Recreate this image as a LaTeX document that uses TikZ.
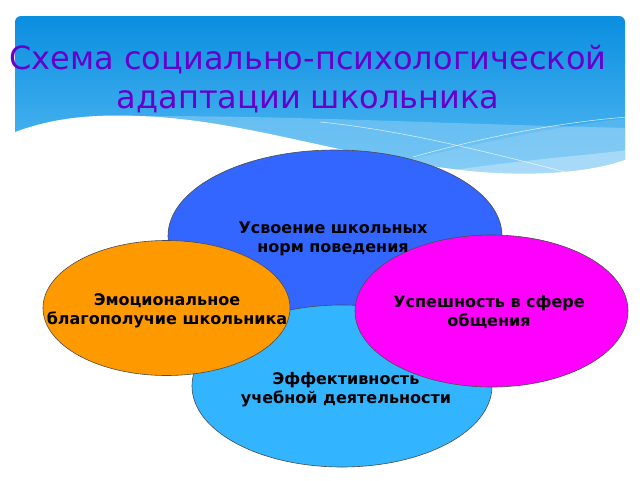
\documentclass[tikz,border=0pt]{standalone}
\usepackage{fontspec}
\setmainfont{DejaVu Sans}

\definecolor{headtop}{RGB}{10,142,224}
\definecolor{headbot}{RGB}{88,188,244}
\definecolor{bandcol}{RGB}{140,206,246}
\definecolor{titlecol}{RGB}{104,0,204}
\definecolor{normblue}{RGB}{51,102,255}
\definecolor{studyblue}{RGB}{51,180,255}
\definecolor{emoorange}{RGB}{255,153,0}
\definecolor{commpink}{RGB}{255,0,255}

\begin{document}
\begin{tikzpicture}[x=1pt,y=-1pt,
    blob/.style={draw=black!70,line width=0.6pt},
    lbl/.style={align=center,inner sep=0pt,text=black,
      font=\fontsize{16}{18.8}\selectfont\bfseries},
    waveline/.style={white,opacity=0.7,line width=0.6pt}]
    \useasboundingbox[fill=white] (0,0) rectangle (640,480);

    % Header: gradient box, light bands, white wave
    \begin{scope}
        \clip[rounded corners=6pt] (15,16) rectangle (625,178);
        \shade[top color=headtop,bottom color=headbot] (15,16) rectangle (625,178);
        \fill[bandcol,opacity=0.55] (150,116) .. controls (300,116) and (450,124) .. (628,128)
            -- (628,180) -- (150,180) -- cycle;
        \fill[white,opacity=0.12] (400,162) .. controls (500,138) and (560,126) .. (628,118)
            -- (628,180) -- (400,180) -- cycle;
        \fill[white,opacity=0.3] (440,172) .. controls (520,160) and (580,156) .. (628,150)
            -- (628,180) -- (440,180) -- cycle;
        \draw[waveline] (320,122) .. controls (400,130) and (480,150) .. (573,174);
        \draw[waveline] (413,157) .. controls (480,138) and (560,122) .. (628,117);
    \end{scope}
    \fill[white] (10,134) .. controls (50,118) and (90,114) .. (140,116)
        .. controls (250,120) and (350,160) .. (480,172)
        .. controls (550,177) and (600,170) .. (630,158) -- (630,200) -- (10,200) -- cycle;

    % Title
    \node[text=titlecol,align=center,font=\fontsize{32}{39}\selectfont] (title)
        at (308,79) {Схема социально-психологической\\адаптации школьника};

    % Sets: blue top, light blue bottom, orange left, pink right
    \path[blob,fill=normblue] (335,236) ellipse [x radius=167pt,y radius=86pt];
    \path[blob,fill=studyblue] (342,386) ellipse [x radius=150pt,y radius=81pt];
    \path[blob,fill=emoorange] (166.5,308) ellipse [x radius=123.5pt,y radius=67.5pt];
    \path[blob,fill=commpink] (491.5,311) ellipse [x radius=136.5pt,y radius=76pt];

    % Texts in each set
    \node[lbl] (norms) at (333,239) {Усвоение школьных\\норм поведения};
    \node[lbl] (emotion) at (167,311) {Эмоциональное\\благополучие школьника};
    \node[lbl] (contact) at (489,312) {Успешность в сфере\\общения};
    \node[lbl] (study) at (346,390) {Эффективность\\учебной деятельности};
\end{tikzpicture}
\end{document}
